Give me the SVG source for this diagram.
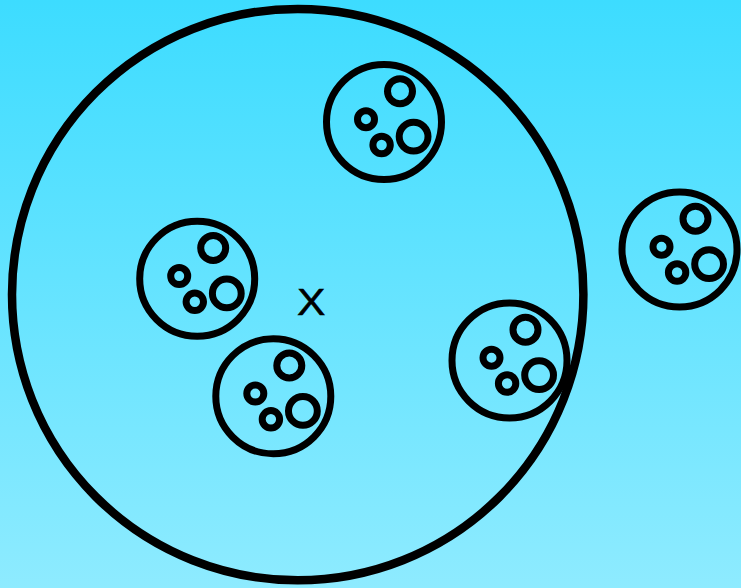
<svg xmlns="http://www.w3.org/2000/svg" xmlns:xlink="http://www.w3.org/1999/xlink" width="741" height="588" viewBox="0 0 741 588">
  <style>
    .ring { fill: none; stroke: #000; }
    .outer { stroke-width: 7; }
    .inner { stroke-width: 7; }
    .big { fill: none; stroke: #000; stroke-width: 8.5; }
    .label { font-family: "Liberation Sans", Arial, sans-serif; font-size: 37px; fill: #000; stroke: #000; stroke-width: 0.5; }
  </style>
  <defs>
    <linearGradient id="bg" x1="0" y1="0" x2="0" y2="1">
      <stop offset="0" stop-color="#3ddcff"/>
      <stop offset="1" stop-color="#8eebff"/>
    </linearGradient>
    <g id="cluster">
      <circle class="ring outer" cx="0" cy="0" r="57.5"/>
      <circle class="ring inner" cx="16" cy="-30.8" r="12.5"/>
      <circle class="ring inner" cx="-18" cy="-2.7" r="8.5"/>
      <circle class="ring inner" cx="-2.4" cy="23" r="8.7"/>
      <circle class="ring inner" cx="29.6" cy="14.6" r="14.4"/>
    </g>
  </defs>
  <rect x="0" y="0" width="741" height="588" fill="url(#bg)"/>
  <g id="population">
    <circle class="big" cx="297.7" cy="294.6" r="285.7"/>
  </g>
  <g id="cluster-top" transform="translate(384,122)"><use href="#cluster" xlink:href="#cluster"/></g>
  <g id="cluster-outside" transform="translate(679.5,249.5)"><use href="#cluster" xlink:href="#cluster"/></g>
  <g id="cluster-left" transform="translate(197.2,278.8)"><use href="#cluster" xlink:href="#cluster"/></g>
  <g id="cluster-bottom" transform="translate(273.3,396.3)"><use href="#cluster" xlink:href="#cluster"/></g>
  <g id="cluster-right" transform="translate(509.5,360.5)"><use href="#cluster" xlink:href="#cluster"/></g>
  <g id="label-x">
    <text class="label" transform="translate(297,315) scale(1.15,1)" x="0" y="0">X</text>
  </g>
  <g id="connectors"/>
</svg>
